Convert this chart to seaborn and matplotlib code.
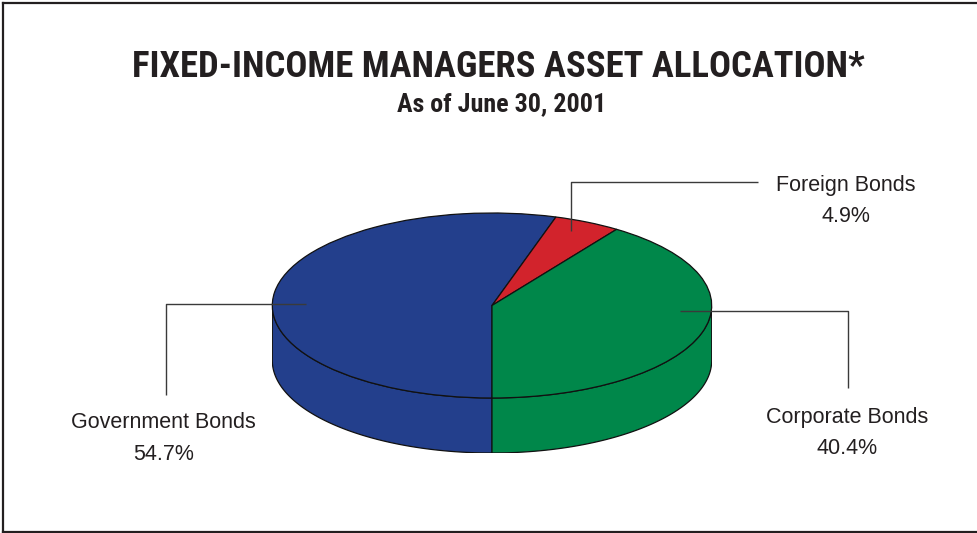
import numpy as np
import matplotlib
matplotlib.use("Agg")
import matplotlib.pyplot as plt
from matplotlib import font_manager
from matplotlib.patches import Polygon
from matplotlib.lines import Line2D
import seaborn as sns

# Allocation data
categories = ["Government Bonds", "Foreign Bonds", "Corporate Bonds"]
shares = [54.7, 4.9, 40.4]
colors = ["#233f8c", "#d2232c", "#00874a"]
title = "FIXED-INCOME MANAGERS ASSET ALLOCATION*"
subtitle = "As of June 30, 2001"

sns.set_theme(style="white")
plt.rcParams["font.family"] = ["Liberation Sans", "DejaVu Sans"]


def _is_bold(w):
    if isinstance(w, (int, float)):
        return w >= 700
    return str(w).lower() in ("bold", "heavy", "extra bold", "black", "700", "800")


bold_faces = {f.name for f in font_manager.fontManager.ttflist
              if _is_bold(f.weight) and f.style == "normal"}
narrow = [n for n in ("Nimbus Sans Narrow", "Liberation Sans Narrow", "Roboto Condensed",
                      "Archivo Narrow", "IBM Plex Sans Condensed", "Fira Sans Condensed",
                      "Encode Sans Condensed", "Asap Condensed", "Barlow Condensed")
          if n in bold_faces]
head_family = narrow[:1] + ["Liberation Sans", "DejaVu Sans"]

W, H = 978, 533
fig = plt.figure(figsize=(W / 100, H / 100), dpi=100)
fig.patch.set_facecolor("white")

# Pie axes: x in [-1, 1] spans the ellipse width, y includes the side depth
depth = 55 / 92.5
left_px, right_px, top_px = 272.3, 711.7, 213.0
bottom_px = top_px + 185 + 55
pie_ax = fig.add_axes([left_px / W, 1 - bottom_px / H,
                       (right_px - left_px) / W, (bottom_px - top_px) / H])
pie_ax.set_zorder(1)

wedges, _ = pie_ax.pie(shares, colors=colors, startangle=270, counterclock=False,
                       radius=1, center=(0, 0),
                       wedgeprops=dict(edgecolor="#111111", linewidth=0.9))
pie_ax.set_aspect("auto")
pie_ax.set_xlim(-1, 1)
pie_ax.set_ylim(-1 - depth, 1)
pie_ax.axis("off")

# Side band of the cylinder: only the front half (180..360 degrees) shows
for w, c in zip(wedges, colors):
    t1, t2 = sorted((w.theta1, w.theta2))
    for shift in (-360, 0, 360):
        a = max(t1 + shift, 180)
        b = min(t2 + shift, 360)
        if b > a:
            t = np.radians(np.linspace(a, b, 120))
            top = np.column_stack([np.cos(t), np.sin(t)])
            bot = np.column_stack([np.cos(t[::-1]), np.sin(t[::-1]) - depth])
            pie_ax.add_patch(Polygon(np.vstack([top, bot]), closed=True,
                                     facecolor=c, edgecolor="#111111",
                                     linewidth=0.9, zorder=0))

# Overlay axes in pixel coordinates for leader lines, labels and frame
ov = fig.add_axes([0, 0, 1, 1])
ov.set_zorder(2)
ov.patch.set_alpha(0)
ov.set_xlim(0, W)
ov.set_ylim(H, 0)
ov.axis("off")

line_kw = dict(color="#3a3a3a", linewidth=1.0, solid_capstyle="butt")
leaders = {
    "Foreign Bonds": [(570.7, 231), (570.7, 182), (758, 182)],
    "Corporate Bonds": [(680, 311.3), (848.3, 311.3), (848.3, 388)],
    "Government Bonds": [(305.7, 303.7), (165.7, 303.7), (165.7, 395)],
}
label_pos = {
    "Foreign Bonds": (846, 191.5, 222),
    "Corporate Bonds": (847.5, 423, 454),
    "Government Bonds": (163.5, 428, 460),
}
for name, share in zip(categories, shares):
    pts = np.array(leaders[name])
    ov.plot(pts[:, 0], pts[:, 1], **line_kw)
    x, y1, y2 = label_pos[name]
    ov.text(x, y1, name, ha="center", va="baseline", fontsize=15.5, color="#231f20")
    ov.text(x, y2, f"{share:.1f}%", ha="center", va="baseline", fontsize=15.5, color="#231f20")

# Headings in a condensed bold face, sized to their set width in pixels
t_title = ov.text(498.3, 76.7, title, ha="center", va="baseline", fontweight="bold",
                  fontsize=26, family=head_family, color="#231f20")
t_sub = ov.text(502, 111.5, subtitle, ha="center", va="baseline", fontweight="bold",
                fontsize=18, family=head_family, color="#231f20")
renderer = fig.canvas.get_renderer()
for txt, width_px in ((t_title, 733), (t_sub, 209)):
    bb = txt.get_window_extent(renderer)
    txt.set_fontsize(txt.get_fontsize() * width_px / bb.width)

# Frame lines (top, left, bottom)
frame_kw = dict(color="#231f20", linewidth=1.6, solid_capstyle="projecting")
ov.add_line(Line2D([2.5, W], [2.5, 2.5], **frame_kw))
ov.add_line(Line2D([2.5, 2.5], [2.5, 531.5], **frame_kw))
ov.add_line(Line2D([2.5, W], [531.5, 531.5], **frame_kw))

fig.savefig("out.png", dpi=100, facecolor="white")
